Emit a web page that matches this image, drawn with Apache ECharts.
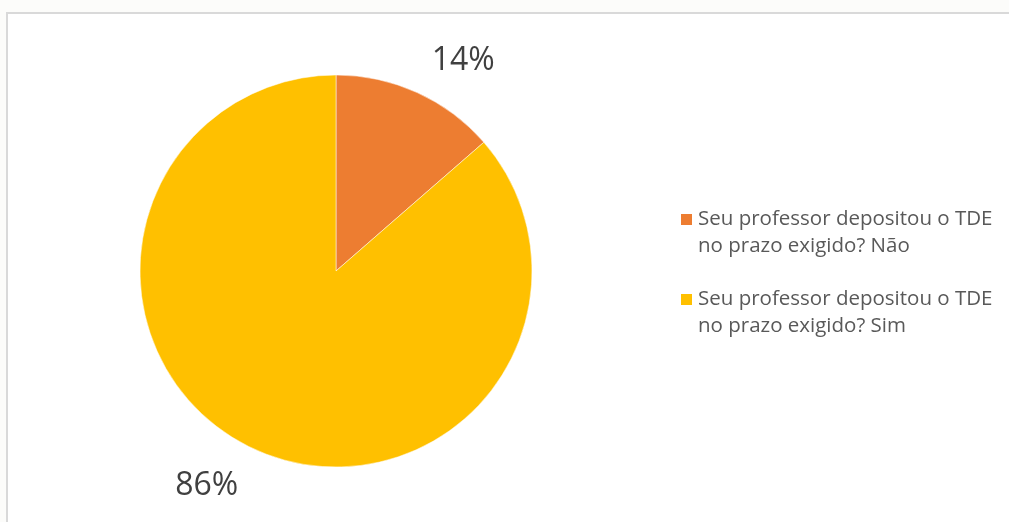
<!DOCTYPE html>
<html>
<head>
<meta charset="utf-8">
<script src="https://cdn.jsdelivr.net/npm/echarts@6/dist/echarts.min.js"></script>
<style>
  html, body { margin: 0; padding: 0; background: #fcfcfa; }
  #frame {
    position: absolute; left: 6px; top: 12px; width: 1020px; height: 530px;
    border: 2px solid #d9d9d9; background: #fff;
  }
  #chart { position: absolute; left: 0; top: 0; width: 1009px; height: 522px; }
</style>
</head>
<body>
<div id="frame"></div>
<div id="chart"></div>
<script>
// respostas
const categories = [
  'Seu professor depositou o TDE no prazo exigido? Não',
  'Seu professor depositou o TDE no prazo exigido? Sim'
];
const values = [13.6, 86.4];
const colors = ['#ED7D31', '#FFC000'];
const labelLen = [35, 40];

const myChart = echarts.init(document.getElementById('chart'));

const option = {
  animation: false,
  color: colors,
  legend: {
    orient: 'vertical',
    left: 679,
    top: 179,
    padding: 0,
    itemWidth: 13,
    itemHeight: 13,
    itemGap: -1,
    icon: 'rect',
    data: categories,
    // linha vazia em cima para alinhar o ícone com a primeira linha
    formatter: name => '\n' + name.replace(' no prazo', '\nno prazo'),
    textStyle: {
      fontFamily: 'Open Sans',
      fontSize: 20.5,
      lineHeight: 27,
      color: '#595959'
    }
  },
  series: [
    {
      type: 'pie',
      center: [336, 271],
      radius: 196,
      startAngle: 90,
      clockwise: true,
      avoidLabelOverlap: false,
      percentPrecision: 0,
      label: {
        show: true,
        position: 'outside',
        formatter: '{d}%',
        fontFamily: 'Open Sans',
        fontSize: 32,
        color: '#404040',
        distanceToLabelLine: 0
      },
      labelLine: { show: false, length2: 0 },
      itemStyle: { borderColor: '#fff', borderWidth: 0.5 },
      emphasis: { disabled: true },
      data: categories.map((name, i) => ({
        name,
        value: values[i],
        labelLine: { length: labelLen[i] }
      }))
    }
  ]
};

myChart.setOption(option);
</script>
</body>
</html>
